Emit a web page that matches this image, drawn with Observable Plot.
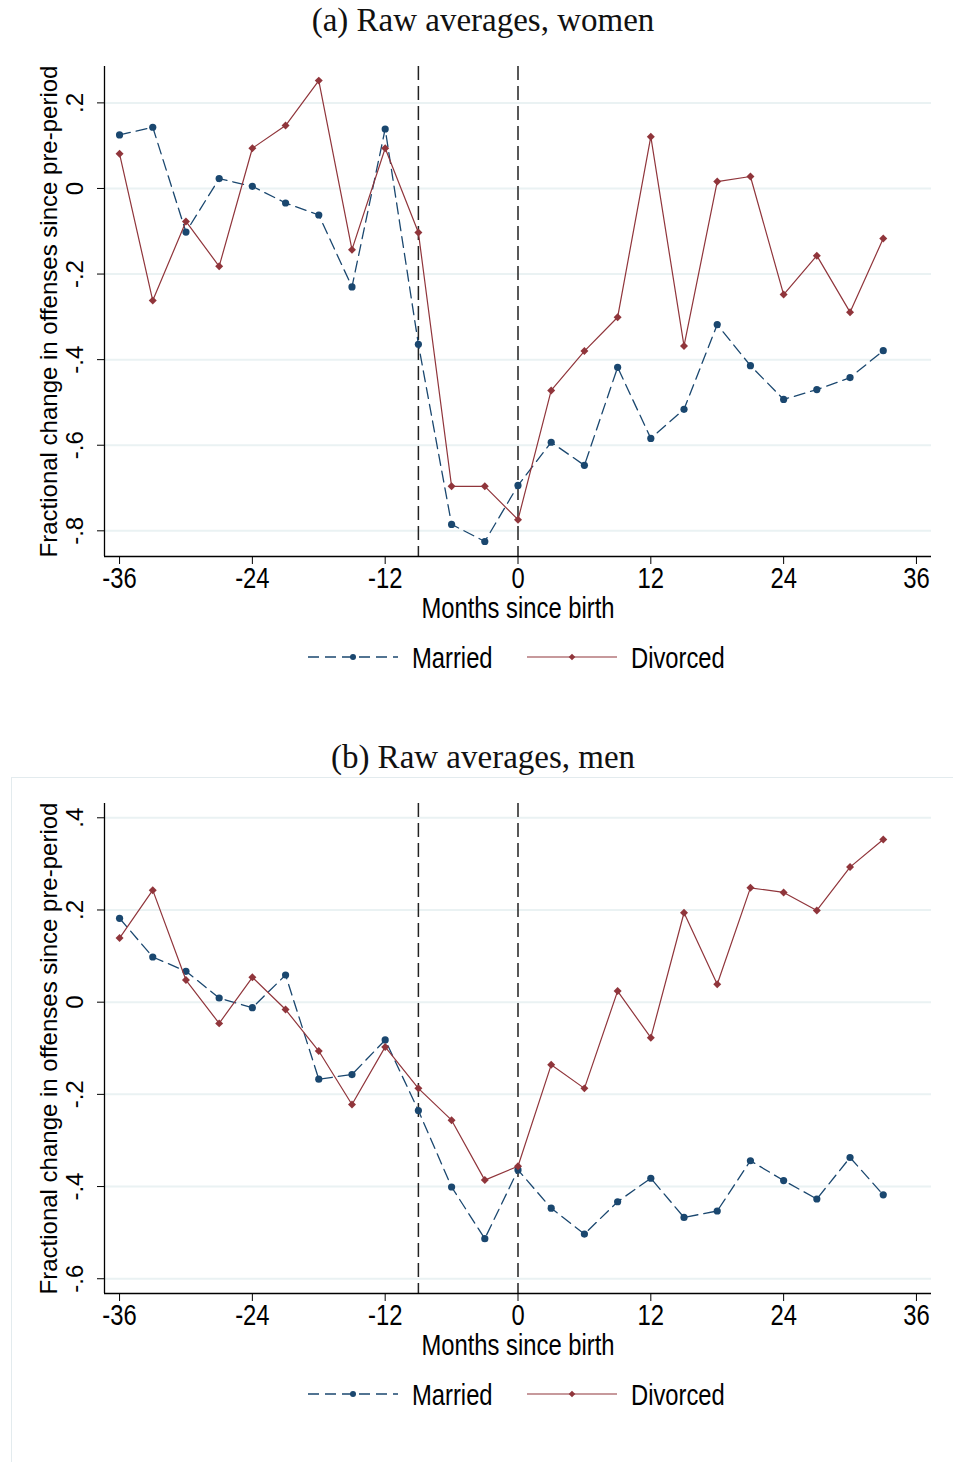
<!DOCTYPE html>
<html><head><meta charset="utf-8">
<script src="https://cdn.jsdelivr.net/npm/d3@7"></script>
<script src="https://cdn.jsdelivr.net/npm/@observablehq/plot@0.6"></script>
<style>
html,body{margin:0;padding:0;background:#fff;}
#page{position:relative;width:953px;height:1462px;overflow:hidden;background:#fff;}
#page > *{position:absolute;left:0;}
</style></head><body><div id="page"></div>
<script>
// ---- data ----
const months = [-36,-33,-30,-27,-24,-21,-18,-15,-12,-9,-6,-3,0,3,6,9,12,15,18,21,24,27,30,33];
const womenMarried  = [0.125,0.143,-0.102,0.023,0.005,-0.034,-0.062,-0.230,0.139,-0.364,-0.785,-0.825,-0.694,-0.593,-0.647,-0.418,-0.584,-0.516,-0.318,-0.414,-0.493,-0.470,-0.442,-0.379];
const womenDivorced = [0.081,-0.262,-0.077,-0.182,0.094,0.147,0.252,-0.143,0.094,-0.103,-0.696,-0.696,-0.774,-0.472,-0.380,-0.301,0.121,-0.368,0.016,0.028,-0.248,-0.157,-0.289,-0.117];
const menMarried    = [0.182,0.098,0.067,0.009,-0.012,0.059,-0.167,-0.157,-0.082,-0.235,-0.401,-0.513,-0.364,-0.447,-0.503,-0.433,-0.382,-0.467,-0.453,-0.344,-0.387,-0.427,-0.337,-0.418];
const menDivorced   = [0.139,0.243,0.048,-0.046,0.054,-0.016,-0.106,-0.222,-0.097,-0.187,-0.256,-0.386,-0.356,-0.136,-0.187,0.024,-0.077,0.194,0.039,0.248,0.238,0.199,0.293,0.353];
const xTicks = [-36,-24,-12,0,12,24,36];
const refLines = [-9,0];
const yTicksA = [0.2,0,-0.2,-0.4,-0.6,-0.8];
const yLabelsA = [".2","0","-.2","-.4","-.6","-.8"];
const yTicksB = [0.4,0.2,0,-0.2,-0.4,-0.6];
const yLabelsB = [".4",".2","0","-.2","-.4","-.6"];
const titleA = "(a) Raw averages, women";
const titleB = "(b) Raw averages, men";
const xTitle = "Months since birth";
const yTitle = "Fractional change in offenses since pre-period";
const seriesNames = ["Married","Divorced"];

// ---- styles ----
const navy = "#1a476f", maroon = "#90353b", grid = "#eaf2f3";
const xDomain = [-37.36, 37.36];
const yDomainA = [-0.860, 0.285];
const yDomainB = [-0.632, 0.431];
const SANS = "'Liberation Sans', Arial, sans-serif";
const SERIF = "'Liberation Serif', 'Times New Roman', serif";
const page = document.getElementById("page");

function panel(married, divorced, yDomain, yTicks, yLabels) {
  const data = months.map((m, i) => ({m, married: married[i], divorced: divorced[i]}));
  return Plot.plot({
    width: 953, height: 590,
    marginTop: 26, marginBottom: 74, marginLeft: 104, marginRight: 22,
    x: {domain: xDomain},
    y: {domain: yDomain},
    style: {background: "transparent", fontFamily: SANS, overflow: "visible", color: "#000"},
    marks: [
      Plot.gridY({ticks: yTicks, stroke: grid, strokeOpacity: 1, strokeWidth: 2}),
      Plot.ruleX(refLines, {stroke: "#222", strokeWidth: 1.5, strokeDasharray: "14,6"}),
      Plot.ruleX([xDomain[0]], {stroke: "#000", strokeWidth: 1.3}),
      Plot.ruleY([yDomain[0]], {stroke: "#000", strokeWidth: 1.3}),
      Plot.axisY({ticks: yTicks, tickSize: 7, tickFormat: () => "", label: null, stroke: "#000"}),
      Plot.text(yTicks, {y: d => d, text: (d, i) => yLabels[i], frameAnchor: "left", textAnchor: "middle", lineAnchor: "middle", dx: -29, rotate: -90, fontSize: 24, fill: "#000"}),
      Plot.text([yTitle], {frameAnchor: "left", textAnchor: "middle", lineAnchor: "middle", dx: -55, rotate: -90, fontSize: 24, fill: "#000"}),
      Plot.axisX({ticks: xTicks, tickSize: 8, tickPadding: 3, fontSize: 29, label: null, tickFormat: d => String(d), stroke: "#000"}),
      Plot.text([xTitle], {frameAnchor: "bottom", lineAnchor: "middle", dy: 52, fontSize: 29, fill: "#000"}),
      Plot.line(data, {x: "m", y: "married", stroke: navy, strokeWidth: 1.3, strokeDasharray: "11,6"}),
      Plot.dot(data, {x: "m", y: "married", fill: navy, r: 3.6, symbol: "circle"}),
      Plot.line(data, {x: "m", y: "divorced", stroke: maroon, strokeWidth: 1.2}),
      Plot.dot(data, {x: "m", y: "divorced", fill: maroon, r: 3.6, symbol: "diamond2"})
    ]
  });
}

function titleSvg(text, top) {
  const svg = d3.create("svg").attr("width", 953).attr("height", 45).style("top", top + "px");
  svg.append("text").attr("x", 483).attr("y", 31).attr("text-anchor", "middle")
    .attr("font-family", SERIF).attr("font-size", 33).attr("fill", "#111").text(text);
  return svg.node();
}

function legendSvg(top) {
  const svg = d3.create("svg").attr("width", 953).attr("height", 40).style("top", top + "px");
  const cy = 20;
  svg.append("line").attr("x1", 308).attr("x2", 398).attr("y1", cy).attr("y2", cy)
    .attr("stroke", navy).attr("stroke-width", 1.3).attr("stroke-dasharray", "11,6");
  svg.append("circle").attr("cx", 353).attr("cy", cy).attr("r", 3).attr("fill", navy);
  svg.append("text").attr("x", 412).attr("y", cy + 11)
    .attr("font-family", SANS).attr("font-size", 29).text(seriesNames[0]);
  svg.append("line").attr("x1", 527).attr("x2", 617).attr("y1", cy).attr("y2", cy)
    .attr("stroke", maroon).attr("stroke-width", 1.2);
  svg.append("path").attr("d", d3.symbol(d3.symbolDiamond2, 28)()).attr("transform", `translate(572,${cy})`).attr("fill", maroon);
  svg.append("text").attr("x", 631).attr("y", cy + 11)
    .attr("font-family", SANS).attr("font-size", 29).text(seriesNames[1]);
  return svg.node();
}

// panel A
page.appendChild(titleSvg(titleA, 0));
const pA = panel(womenMarried, womenDivorced, yDomainA, yTicksA, yLabelsA);
pA.style.top = "40px"; page.appendChild(pA);
page.appendChild(legendSvg(637));

// panel B frame
const frame = document.createElement("div");
frame.style.cssText = "left:11px;top:777px;width:1000px;height:800px;border:1.5px solid #e3ebee;box-sizing:border-box;";
page.appendChild(frame);
page.appendChild(titleSvg(titleB, 737));
const pB = panel(menMarried, menDivorced, yDomainB, yTicksB, yLabelsB);
pB.style.top = "777px"; page.appendChild(pB);
page.appendChild(legendSvg(1374));

// horizontal sans text is narrow (Arial Narrow proportions)
page.querySelectorAll("text").forEach(t => {
  const fs = parseFloat(getComputedStyle(t).fontSize);
  const fam = getComputedStyle(t).fontFamily;
  if (Math.abs(fs - 29) < 0.5 && fam.indexOf("Serif") < 0) {
    const w = t.getComputedTextLength();
    t.setAttribute("textLength", (w * 0.82).toFixed(1));
    t.setAttribute("lengthAdjust", "spacingAndGlyphs");
  }
});
</script></body></html>
